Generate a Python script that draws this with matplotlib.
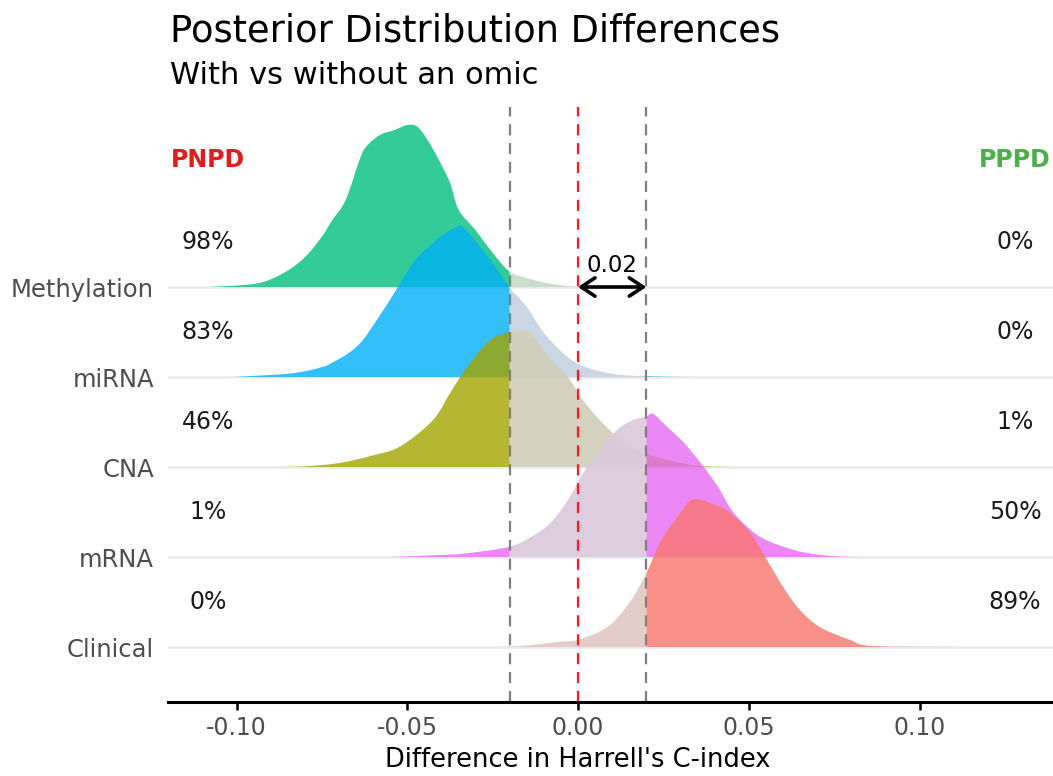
import matplotlib
matplotlib.use("Agg")
import matplotlib.pyplot as plt
from matplotlib.path import Path
from matplotlib.patches import PathPatch
import numpy as np

# ---------------- data ----------------
omics = ["Clinical", "mRNA", "CNA", "miRNA", "Methylation"]   # bottom -> top
pnpd = ["0%", "1%", "46%", "83%", "98%"]
pppd = ["89%", "50%", "1%", "0%", "0%"]
rope = 0.02
x_ticks = [-0.10, -0.05, 0.00, 0.05, 0.10]
x_tick_labels = ["-0.10", "-0.05", "0.00", "0.05", "0.10"]

methylation_x = [-0.108, -0.094, -0.086, -0.080, -0.075, -0.072, -0.068, -0.064, -0.062, -0.058,
                 -0.054, -0.050, -0.047, -0.044, -0.041, -0.0375, -0.035, -0.030, -0.025, -0.020,
                 -0.015, -0.010, -0.005, 0.000]
methylation_h = [0.0, 0.04, 0.16, 0.33, 0.56, 0.74, 0.97, 1.41, 1.56, 1.69,
                 1.74, 1.80, 1.78, 1.63, 1.43, 1.16, 0.86, 0.63, 0.38, 0.17,
                 0.10, 0.05, 0.02, 0.0]

mirna_x = [-0.101, -0.084, -0.075, -0.072, -0.067, -0.063, -0.059, -0.055, -0.051, -0.047,
           -0.043, -0.040, -0.0355, -0.034, -0.031, -0.025, -0.020, -0.015, -0.010, -0.003,
           0.003, 0.011, 0.020, 0.033]
mirna_h = [0.0, 0.04, 0.11, 0.16, 0.27, 0.41, 0.63, 0.86, 1.11, 1.33,
           1.47, 1.57, 1.67, 1.67, 1.56, 1.27, 0.99, 0.78, 0.49, 0.22,
           0.10, 0.03, 0.008, 0.0]

cna_x = [-0.090, -0.081, -0.070, -0.060, -0.052, -0.0425, -0.0375, -0.0325, -0.026, -0.020,
         -0.015, -0.013, -0.008, -0.003, 0.0015, 0.0064, 0.0114, 0.016, 0.020, 0.026,
         0.036, 0.047]
cna_h = [0.0, 0.005, 0.044, 0.13, 0.23, 0.52, 0.82, 1.11, 1.40, 1.50,
         1.51, 1.45, 1.19, 1.00, 0.74, 0.52, 0.34, 0.22, 0.15, 0.08,
         0.01, 0.0]

mrna_x = [-0.055, -0.042, -0.033, -0.020, -0.013, -0.008, -0.003, 0.0015, 0.0064, 0.0114,
          0.016, 0.020, 0.022, 0.026, 0.031, 0.036, 0.041, 0.045, 0.050, 0.055,
          0.065, 0.075, 0.083]
mrna_h = [0.0, 0.02, 0.04, 0.115, 0.24, 0.38, 0.63, 0.93, 1.18, 1.41,
          1.52, 1.56, 1.59, 1.45, 1.27, 1.04, 0.78, 0.52, 0.32, 0.19,
          0.06, 0.01, 0.0]

clinical_x = [-0.023, -0.020, -0.014, -0.005, 0.000, 0.0085, 0.0150, 0.020, 0.024, 0.029, 0.0337,
              0.0407, 0.0445, 0.0504, 0.0553, 0.060, 0.065, 0.0709, 0.0796, 0.0864, 0.112]
clinical_h = [0.0, 0.004, 0.02, 0.06, 0.08, 0.22, 0.49, 0.82, 1.16, 1.44, 1.64,
              1.57, 1.49, 1.27, 0.97, 0.67, 0.41, 0.22, 0.08, 0.01, 0.0]

ridge_x = [clinical_x, mrna_x, cna_x, mirna_x, methylation_x]
ridge_h = [clinical_h, mrna_h, cna_h, mirna_h, methylation_h]

# ---------------- styles ----------------
colors = {"Clinical": "#F8766D", "mRNA": "#E76BF3", "CNA": "#A3A500",
          "miRNA": "#00B0F6", "Methylation": "#00BF7D"}
rope_colors = {"Clinical": "#E0C8C3", "mRNA": "#DAC8DC", "CNA": "#D1CFBA",
               "miRNA": "#C5D2E0", "Methylation": "#C3D9C9"}

W, H = 1053, 776
fig = plt.figure(figsize=(W / 100, H / 100), dpi=100)
ax = fig.add_axes([168 / W, 1 - 702 / H, (1053 - 168) / W, (702 - 107) / H])

x_left = (168 - 578) / 3415
x_right = (1053 - 578) / 3415
ax.set_xlim(x_left, x_right)
ax.set_ylim(-0.611, 6.0)

for i in range(len(omics)):
    ax.axhline(i, color="#EBEBEB", lw=1.8, zorder=0)


def smooth_segment_path(x, y, base, i0, i1):
    """Closed path for points i0..i1, top edge drawn as Catmull-Rom bezier."""
    verts = [(x[i0], base), (x[i0], base + y[i0])]
    codes = [Path.MOVETO, Path.LINETO]
    n = len(x)
    for k in range(i0, i1):
        km = max(k - 1, 0)
        kp = min(k + 2, n - 1)
        c1 = (x[k] + (x[k + 1] - x[km]) / 6, y[k] + (y[k + 1] - y[km]) / 6)
        c2 = (x[k + 1] - (x[kp] - x[k]) / 6, y[k + 1] - (y[kp] - y[k]) / 6)
        c1 = (c1[0], base + max(c1[1], 0))
        c2 = (c2[0], base + max(c2[1], 0))
        verts += [c1, c2, (x[k + 1], base + y[k + 1])]
        codes += [Path.CURVE4] * 3
    verts += [(x[i1], base), (x[i0], base)]
    codes += [Path.LINETO, Path.CLOSEPOLY]
    return Path(verts, codes)


n = len(omics)
for i in reversed(range(n)):
    name = omics[i]
    x = np.array(ridge_x[i], dtype=float)
    h = np.array(ridge_h[i], dtype=float)
    z = 2 + (n - i)
    idx = np.arange(len(x))
    left = idx[x <= -rope + 1e-12]
    mid = idx[(x >= -rope - 1e-12) & (x <= rope + 1e-12)]
    right = idx[x >= rope - 1e-12]
    for seg, col, a in [(left, colors[name], 0.8), (right, colors[name], 0.8),
                        (mid, rope_colors[name], 0.9)]:
        if len(seg) < 2:
            continue
        p = smooth_segment_path(x, h, i, seg[0], seg[-1])
        ax.add_patch(PathPatch(p, facecolor=col, alpha=a, lw=0, zorder=z))

# reference lines
ax.axvline(-rope, color="#7F7F7F", lw=1.6, ls=(0, (5, 3.5)), zorder=20)
ax.axvline(rope, color="#7F7F7F", lw=1.6, ls=(0, (5, 3.5)), zorder=20)
ax.axvline(0, color="#FF1A1A", lw=1.6, ls=(0, (5, 3.5)), zorder=20)

# arrow and label
top = n - 1
ax.annotate("", xy=(0, top), xytext=(rope, top),
            arrowprops=dict(arrowstyle="<->,head_length=0.45,head_width=0.3",
                            color="black", lw=2.6,
                            mutation_scale=22, shrinkA=0, shrinkB=0), zorder=25)
ax.text(rope / 2, top + 0.24, f"{rope:.2f}", ha="center", va="center",
        fontsize=16.5, color="black", zorder=25)

# percentages
x_lab_left = (208 - 578) / 3415
x_lab_right = (1015 - 578) / 3415
for i in range(n):
    ax.text(x_lab_left, i + 0.5, pnpd[i], ha="center", va="center", fontsize=17,
            color="#1A1A1A", zorder=25)
    ax.text(x_lab_right, i + 0.5, pppd[i], ha="center", va="center", fontsize=17,
            color="#1A1A1A", zorder=25)
ax.text(x_lab_left, 5.41, "PNPD", ha="center", va="center", fontsize=17,
        fontweight="bold", color="#E41A1C", zorder=25)
ax.text(x_lab_right, 5.41, "PPPD", ha="center", va="center", fontsize=17,
        fontweight="bold", color="#4DAF4A", zorder=25)

# axes styling
for s in ["left", "right", "top"]:
    ax.spines[s].set_visible(False)
ax.spines["bottom"].set_linewidth(2.2)
ax.spines["bottom"].set_color("black")
ax.spines["bottom"].set_zorder(30)
ax.set_xticks(x_ticks)
ax.set_xticklabels(x_tick_labels)
ax.tick_params(axis="x", length=6, width=1.8, color="black", labelsize=17,
               labelcolor="#4D4D4D", pad=4)
ax.set_yticks(range(n))
ax.set_yticklabels(omics)
ax.tick_params(axis="y", length=0, labelsize=17.5, labelcolor="#4D4D4D", pad=10)

fig.text(577.5 / W, 1 - 760 / H, "Difference in Harrell's C-index", ha="center",
         va="center", fontsize=18.5, color="black")
fig.text(170 / W, 1 - 41 / H, "Posterior Distribution Differences", ha="left",
         va="baseline", fontsize=26.5, color="black")
fig.text(170 / W, 1 - 84 / H, "With vs without an omic", ha="left",
         va="baseline", fontsize=22, color="black")

fig.savefig("out.png", dpi=100, facecolor="white")
